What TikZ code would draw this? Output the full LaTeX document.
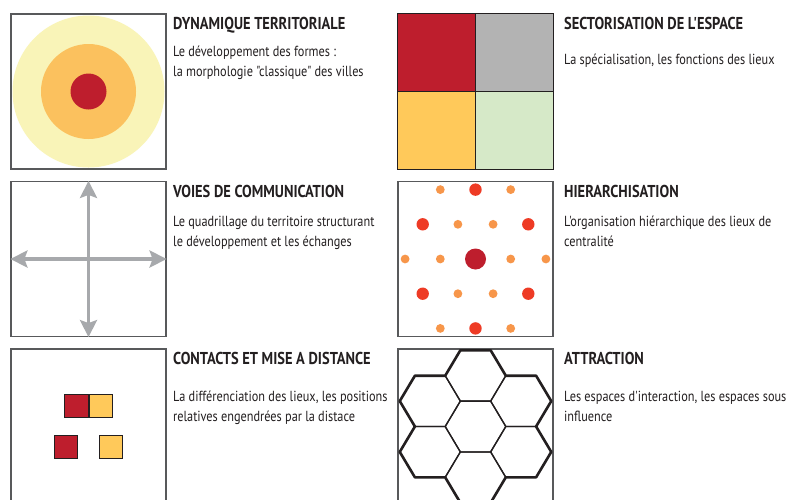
\documentclass[tikz,border=0pt]{standalone}
\usepackage{fontspec}
\setmainfont{PT Sans}[FakeStretch=0.84, Ligatures=TeXOff]
\usetikzlibrary{arrows.meta,positioning}

\definecolor{encre}{HTML}{231F20}
\definecolor{cadreGris}{HTML}{58595B}
\definecolor{jaunePale}{HTML}{F9F4B8}
\definecolor{orangeMoyen}{HTML}{FBC15E}
\definecolor{rougeF}{HTML}{BE1E2D}
\definecolor{grisQ}{HTML}{B3B3B3}
\definecolor{jauneQ}{HTML}{FFC95A}
\definecolor{vertQ}{HTML}{D6E9C8}
\definecolor{grisVoie}{HTML}{A7A9AC}
\definecolor{orangeP}{HTML}{F7964A}
\definecolor{rougeV}{HTML}{EE3B25}

\tikzset{
  cadre/.style={draw=cadreGris, line width=1.2pt, minimum size=155pt, inner sep=0pt},
  titre/.style={anchor=base west, inner sep=0pt, text=encre, font=\bfseries\fontsize{17.2}{19}\selectfont},
  texte/.style={anchor=base west, inner sep=0pt, align=left, text=encre, font=\fontsize{14.6}{20.5}\selectfont},
  quart/.style={draw=encre, line width=1.2pt},
  voie/.style={draw=grisVoie, line width=3.6pt, {Stealth[length=17pt,width=17pt,inset=3pt]}-{Stealth[length=17pt,width=17pt,inset=3pt]}},
  petit/.style={fill=orangeP},
  moyen/.style={fill=rougeV},
  carre/.style={draw=encre, line width=1pt, minimum size=23.5pt, inner sep=0pt},
  alveole/.style={draw=encre, line width=1.3pt, line join=round},
  contour/.style={draw=encre, line width=2.6pt, line join=round}
}

\begin{document}
\begin{tikzpicture}[x=1pt,y=-1pt]
\useasboundingbox (0,0) rectangle (792,499);
\fill[white] (0,0) rectangle (792,499);
\clip (0,0) rectangle (792,499);

% cadres
\node[cadre] (dyn) at (88.5,91.5) {};
\node[cadre] (secteur) at (475.5,91.5) {};
\node[cadre] (voies) at (88.5,259) {};
\node[cadre] (hier) at (475.5,259) {};
\node[cadre] (contact) at (88.5,426.5) {};
\node[cadre] (attr) at (475.5,426.5) {};

% dynamique territoriale
\fill[jaunePale] (dyn.center) circle (76);
\fill[orangeMoyen] (dyn.center) circle (47.5);
\fill[rougeF] (dyn.center) circle (18);

% sectorisation
\path[quart, fill=rougeF] (secteur.north west) rectangle (secteur.center);
\path[quart, fill=grisQ] (secteur.north) rectangle (secteur.east);
\path[quart, fill=jauneQ] (secteur.west) rectangle (secteur.south);
\path[quart, fill=vertQ] (secteur.center) rectangle (secteur.south east);

% voies de communication
\draw[voie] (voies.west) -- (voies.east);
\draw[voie] (voies.north) -- (voies.south);

% hierarchisation
\foreach \i/\j in {-4/0,-2/0,2/0,4/0,-1/-1,1/-1,-1/1,1/1,-2/-2,2/-2,-2/2,2/2}
  \fill[petit] ([shift={(\i*17.6,\j*34.7)}]hier.center) circle (4.4);
\foreach \i/\j in {-3/-1,3/-1,-3/1,3/1,0/-2,0/2}
  \fill[moyen] ([shift={(\i*17.6,\j*34.7)}]hier.center) circle (6.2);
\fill[rougeF] (hier.center) circle (10.5);

% contacts
\node[carre, fill=rougeF] (cR1) at (76.7,405.8) {};
\node[carre, fill=jauneQ, right=0pt of cR1] (cJ1) {};
\node[carre, fill=rougeF] (cR2) at (66.2,447) {};
\node[carre, fill=jauneQ] (cJ2) at (110.8,447) {};

% attraction
\begin{scope}[shift={(attr.center)}]
  \foreach \cx/\cy in {0/0,0/-50.8,0/50.8,-45.45/-25.4,45.45/-25.4,-45.45/25.4,45.45/25.4}
    \draw[alveole] (\cx,\cy) +(-15.15,-25.4) -- +(15.15,-25.4) -- +(30.3,0)
      -- +(15.15,25.4) -- +(-15.15,25.4) -- +(-30.3,0) -- cycle;
  \draw[contour] (-15.15,-76.2) -- (15.15,-76.2) -- (30.3,-50.8) -- (60.6,-50.8)
    -- (75.75,-25.4) -- (60.6,0) -- (75.75,25.4) -- (60.6,50.8) -- (30.3,50.8)
    -- (15.15,76.2) -- (-15.15,76.2) -- (-30.3,50.8) -- (-60.6,50.8)
    -- (-75.75,25.4) -- (-60.6,0) -- (-75.75,-25.4) -- (-60.6,-50.8)
    -- (-30.3,-50.8) -- cycle;
\end{scope}

% textes
\node[titre] (dynTitre) at (173,29.5) {DYNAMIQUE TERRITORIALE};
\node[texte] (dynTexte) at (173,76.5) {Le développement des formes :\\la morphologie "classique" des villes};
\node[titre] (secTitre) at (564,29.5) {SECTORISATION DE L'ESPACE};
\node[texte] (secTexte) at (564,64.5) {La spécialisation, les fonctions des lieux};
\node[titre] (voiTitre) at (173,197) {VOIES DE COMMUNICATION};
\node[texte] (voiTexte) at (173,246.5) {Le quadrillage du territoire structurant\\le développement et les échanges};
\node[titre] (hieTitre) at (564,197) {HIERARCHISATION};
\node[texte] (hieTexte) at (564,246.5) {L'organisation hiérarchique des lieux de\\centralité};
\node[titre] (conTitre) at (173,364.5) {CONTACTS ET MISE A DISTANCE};
\node[texte] (conTexte) at (173,421.5) {La différenciation des lieux, les positions\\relatives engendrées par la distace};
\node[titre] (attTitre) at (564,364.5) {ATTRACTION};
\node[texte] (attTexte) at (564,421.5) {Les espaces d'interaction, les espaces sous\\influence};
\end{tikzpicture}
\end{document}
